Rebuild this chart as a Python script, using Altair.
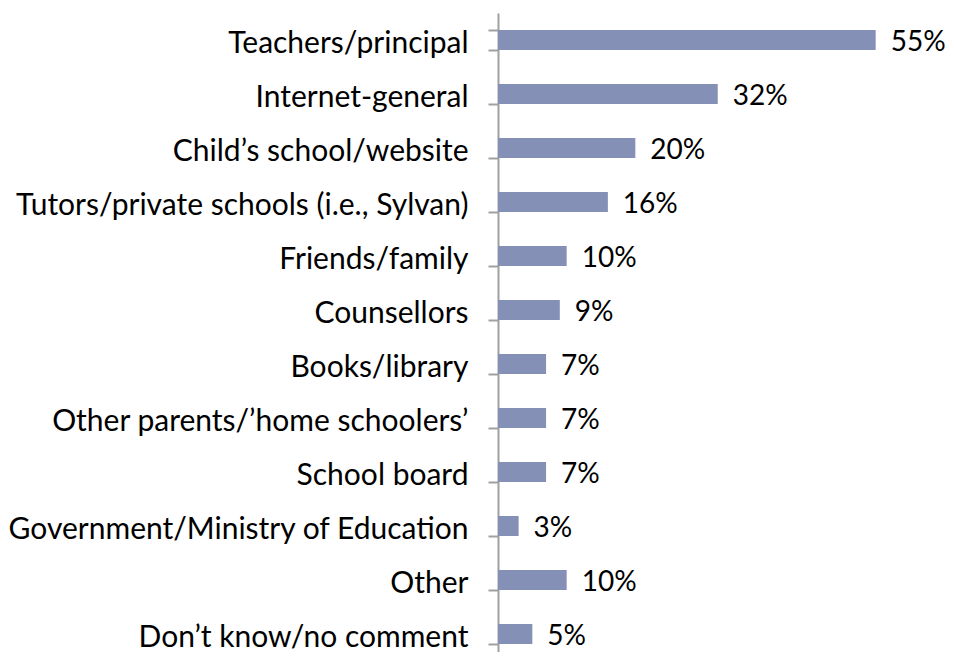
import altair as alt
import pandas as pd

categories = [
    "Teachers/principal",
    "Internet-general",
    "Child\u2019s school/website",
    "Tutors/private schools (i.e., Sylvan)",
    "Friends/family",
    "Counsellors",
    "Books/library",
    "Other parents/\u2019home schoolers\u2019",
    "School board",
    "Government/Ministry of Education",
    "Other",
    "Don\u2019t know/no comment",
]
values = [55, 32, 20, 16, 10, 9, 7, 7, 7, 3, 10, 5]
labels = [f"{v}%" for v in values]

df = pd.DataFrame({"cat": categories, "val": values, "label": labels})

FONT = "Lato"

y_enc = alt.Y(
    "cat:N",
    sort=categories,
    title=None,
    scale=alt.Scale(paddingInner=0.63, paddingOuter=0.315),
    axis=alt.Axis(
        labelFont=FONT,
        labelFontSize=30,
        labelColor="#000000",
        labelPadding=20,
        labelLimit=700,
        labelOffset=3,
        tickSize=10,
        tickColor="#A0A0A0",
        tickWidth=2,
        domainColor="#A0A0A0",
        domainWidth=2,
        tickBand="extent",
        grid=False,
    ),
)

x_enc = alt.X("val:Q", title=None, axis=None, scale=alt.Scale(domain=[0, 60], nice=False))

bars = alt.Chart(df).mark_bar(color="#8490B5").encode(x=x_enc, y=y_enc)

text = alt.Chart(df).mark_text(
    align="left", baseline="middle", dx=15, dy=3, font=FONT, fontSize=28, color="#000000"
).encode(x=x_enc, y=y_enc, text="label:N")

chart = (
    alt.layer(bars, text)
    .properties(
        width=412,
        height=648,
        autosize=alt.AutoSizeParams(type="none"),
        padding={"left": 490, "top": 5, "right": 36, "bottom": -9},
    )
    .configure(background="white")
    .configure_view(strokeWidth=0, stroke="transparent")
)

chart.save("out.html", embed_options={"renderer": "svg", "actions": False})
